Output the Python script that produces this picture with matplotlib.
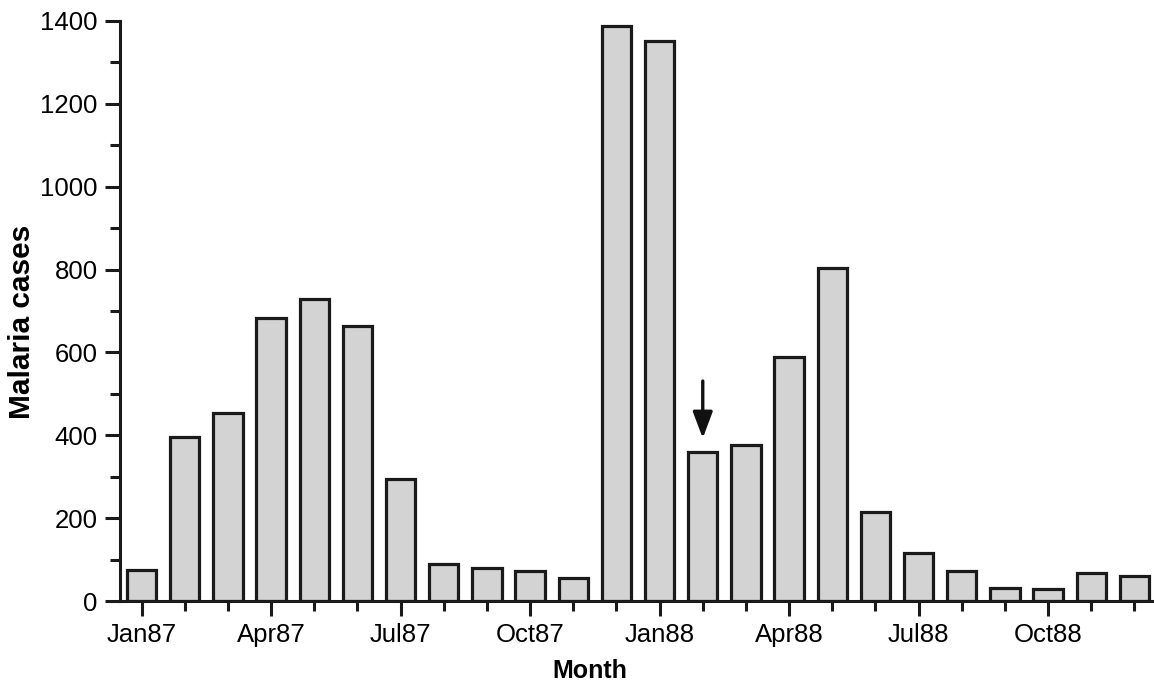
import matplotlib
matplotlib.use("Agg")
import matplotlib.pyplot as plt
from matplotlib.ticker import MultipleLocator

plt.rcParams['font.family'] = ['Liberation Sans', 'DejaVu Sans']

# monthly malaria cases, Jan 1987 - Dec 1988
months = ["Jan87", "Feb87", "Mar87", "Apr87", "May87", "Jun87",
          "Jul87", "Aug87", "Sep87", "Oct87", "Nov87", "Dec87",
          "Jan88", "Feb88", "Mar88", "Apr88", "May88", "Jun88",
          "Jul88", "Aug88", "Sep88", "Oct88", "Nov88", "Dec88"]
cases = [76, 396, 455, 684, 729, 664, 294, 89, 80, 72, 56, 1389,
         1352, 360, 377, 589, 804, 215, 117, 73, 31, 30, 67, 60]

# arrow marks Feb88
arrow_month = "Feb88"
arrow_from = 531
arrow_to = 393

x = list(range(len(months)))

fig = plt.figure(figsize=(11.54, 6.84), dpi=100)
ax = fig.add_axes([0.104, 0.1213, 0.894, 0.848])

ax.bar(x, cases, width=0.68, color="#d3d3d3", edgecolor="#1a1a1a",
       linewidth=2.3, zorder=2)

i = months.index(arrow_month)
ax.annotate("", xy=(i, arrow_to), xytext=(i, arrow_from),
            arrowprops=dict(arrowstyle="-|>,head_length=1.6,head_width=0.6",
                            color="#111111", lw=2.4, shrinkA=0, shrinkB=0))

ax.set_xlim(-0.5, 23.4)
ax.set_ylim(0, 1400)

ax.set_xticks(x[::3])
ax.set_xticklabels(months[::3])
ax.xaxis.set_minor_locator(MultipleLocator(1))
ax.yaxis.set_major_locator(MultipleLocator(200))
ax.yaxis.set_minor_locator(MultipleLocator(100))

for s in ["top", "right"]:
    ax.spines[s].set_visible(False)
for s in ["left", "bottom"]:
    ax.spines[s].set_linewidth(2.2)
    ax.spines[s].set_color("#1a1a1a")

ax.tick_params(which="major", length=11, width=2.2, labelsize=18.5,
               direction="out", color="#1a1a1a", pad=5)
ax.tick_params(which="minor", length=7, width=2.2, direction="out",
               color="#1a1a1a")

ax.set_xlabel("Month", fontsize=18, fontweight="bold")
ax.xaxis.set_label_coords(0.455, -0.1)
ax.set_ylabel("Malaria cases", fontsize=21.5, fontweight="bold",
              va="center")
ax.yaxis.set_label_coords(-0.095, 0.481)

fig.savefig("out.png", dpi=100)
